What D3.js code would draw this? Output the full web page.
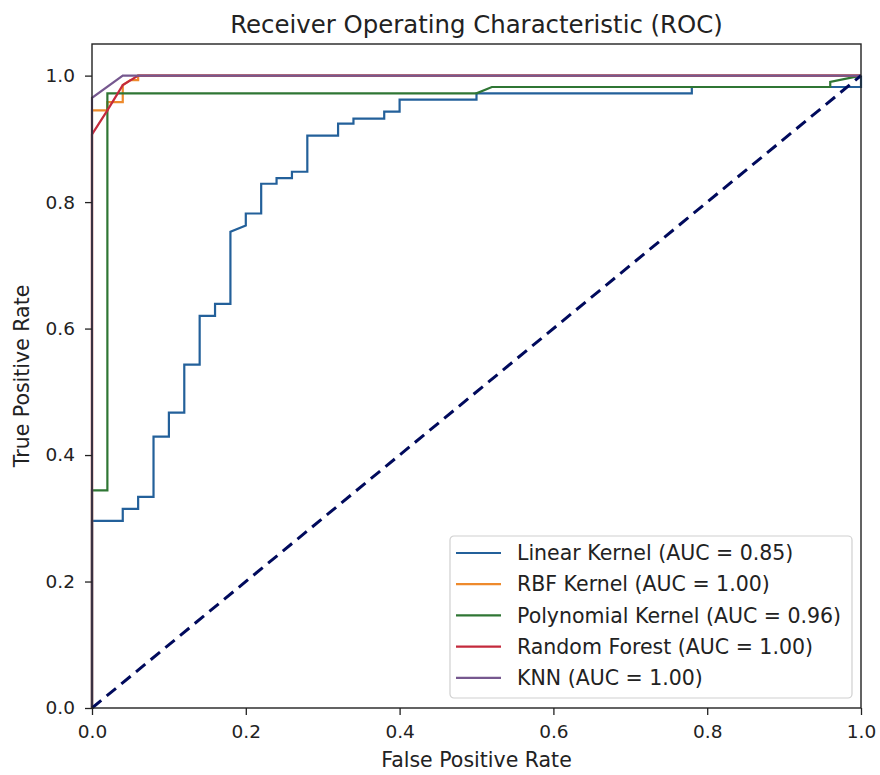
<!DOCTYPE html>
<html>
<head>
<meta charset="utf-8">
<script src="https://cdn.jsdelivr.net/npm/d3@7"></script>
<style>
  body { margin: 0; background: #fff; }
  text { font-family: "DejaVu Sans", sans-serif; fill: #222; }
</style>
</head>
<body>
<div id="chart"></div>
<script>
// ROC curve points: [false positive rate, true positive rate]
var linearKernel = [[0,0],[0,0.296],[0.04,0.296],[0.04,0.315],[0.06,0.315],[0.06,0.334],[0.08,0.334],
    [0.08,0.429],[0.10,0.429],[0.10,0.467],[0.12,0.467],[0.12,0.543],[0.14,0.543],[0.14,0.62],
    [0.16,0.62],[0.16,0.639],[0.18,0.639],[0.18,0.753],[0.20,0.763],[0.20,0.782],[0.22,0.782],
    [0.22,0.829],[0.24,0.829],[0.24,0.838],[0.26,0.838],[0.26,0.848],[0.28,0.848],[0.28,0.905],
    [0.32,0.905],[0.32,0.924],[0.34,0.924],[0.34,0.932],[0.38,0.932],[0.38,0.943],[0.40,0.943],
    [0.40,0.962],[0.50,0.962],[0.50,0.972],[0.78,0.972],[0.78,0.982],[1.0,0.982],[1.0,1.0]];
var rbfKernel = [[0,0],[0,0.945],[0.02,0.945],[0.02,0.958],[0.04,0.958],[0.04,0.985],
    [0.05,0.993],[0.06,0.993],[0.06,1.0],[1.0,1.0]];
var polyKernel = [[0,0],[0,0.344],[0.02,0.344],[0.02,0.972],[0.50,0.972],[0.52,0.982],
    [0.96,0.982],[0.96,0.99],[1.0,1.0]];
var randomForest = [[0,0],[0,0.907],[0.02,0.945],[0.04,0.985],[0.06,1.0],[1.0,1.0]];
var knn = [[0,0],[0,0.965],[0.04,1.0],[1.0,1.0]];

var seriesNames = ["Linear Kernel (AUC = 0.85)", "RBF Kernel (AUC = 1.00)",
    "Polynomial Kernel (AUC = 0.96)", "Random Forest (AUC = 1.00)", "KNN (AUC = 1.00)"];
var seriesData = [linearKernel, rbfKernel, polyKernel, randomForest, knn];
var seriesColors = ["#23609a", "#ee8a2c", "#2f7634", "#c42a3c", "#76588f"];

var tickValues = [0, 0.2, 0.4, 0.6, 0.8, 1.0];

var svgWidth = 880;
var svgHeight = 775;
var margin = { top: 44, right: 19, bottom: 67, left: 92 };
var width = svgWidth - margin.left - margin.right;
var height = svgHeight - margin.top - margin.bottom;

var svg = d3.select("#chart")
    .append("svg")
    .attr("width", svgWidth)
    .attr("height", svgHeight);

var chartGroup = svg.append("g")
    .attr("transform", `translate(${margin.left}, ${margin.top})`);

var xScale = d3.scaleLinear().domain([0, 1]).range([0, width]);
var yScale = d3.scaleLinear().domain([0, 1.05]).range([height, 0]);

var line = d3.line()
    .x(d => xScale(d[0]))
    .y(d => yScale(d[1]));

// Curves
seriesData.forEach(function(data, i) {
    chartGroup.append("path")
        .datum(data)
        .attr("fill", "none")
        .attr("stroke", seriesColors[i])
        .attr("stroke-width", 2.2)
        .attr("d", line);
});

// Chance line
chartGroup.append("path")
    .datum([[0, 0], [1, 1]])
    .attr("fill", "none")
    .attr("stroke", "#000a5c")
    .attr("stroke-width", 3)
    .attr("stroke-dasharray", "12,7")
    .attr("d", line);

// Axes
var bottomAxis = d3.axisBottom(xScale)
    .tickValues(tickValues)
    .tickFormat(d3.format(".1f"))
    .tickSize(7)
    .tickPadding(10);
var leftAxis = d3.axisLeft(yScale)
    .tickValues(tickValues)
    .tickFormat(d3.format(".1f"))
    .tickSize(7)
    .tickPadding(10);

var xAxis = chartGroup.append("g")
    .attr("transform", `translate(0, ${height})`)
    .call(bottomAxis);
var yAxis = chartGroup.append("g")
    .call(leftAxis);

[xAxis, yAxis].forEach(function(ax) {
    ax.select(".domain").remove();
    ax.selectAll("line").attr("stroke", "#222").attr("stroke-width", 1.3);
    ax.selectAll("text")
        .attr("font-size", 18.5)
        .style("font-family", "DejaVu Sans, sans-serif")
        .attr("fill", "#222");
});

// Frame
chartGroup.append("rect")
    .attr("width", width)
    .attr("height", height)
    .attr("fill", "none")
    .attr("stroke", "#222")
    .attr("stroke-width", 1.4);

// Title and axis labels
svg.append("text")
    .attr("x", margin.left + width / 2)
    .attr("y", 33)
    .attr("text-anchor", "middle")
    .attr("font-size", 24.4)
    .text("Receiver Operating Characteristic (ROC)");

svg.append("text")
    .attr("x", margin.left + width / 2)
    .attr("y", 767)
    .attr("text-anchor", "middle")
    .attr("font-size", 20.5)
    .text("False Positive Rate");

svg.append("text")
    .attr("transform", `translate(29, ${margin.top + height / 2}) rotate(-90)`)
    .attr("text-anchor", "middle")
    .attr("font-size", 20.5)
    .text("True Positive Rate");

// Legend
var legendGroup = svg.append("g")
    .attr("transform", "translate(450, 536)");

legendGroup.append("rect")
    .attr("width", 402)
    .attr("height", 162)
    .attr("rx", 4)
    .attr("fill", "#fff")
    .attr("fill-opacity", 0.85)
    .attr("stroke", "#d0d0d0")
    .attr("stroke-width", 1.2);

var legendRows = legendGroup.selectAll("g.row")
    .data(seriesNames)
    .enter()
    .append("g")
    .attr("class", "row")
    .attr("transform", (d, i) => `translate(0, ${17 + i * 31.2})`);

legendRows.append("line")
    .attr("x1", 6)
    .attr("x2", 51)
    .attr("stroke", (d, i) => seriesColors[i])
    .attr("stroke-width", 2.2);

legendRows.append("text")
    .attr("x", 67)
    .attr("dy", "0.35em")
    .attr("font-size", 20.5)
    .text(d => d);
</script>
</body>
</html>
